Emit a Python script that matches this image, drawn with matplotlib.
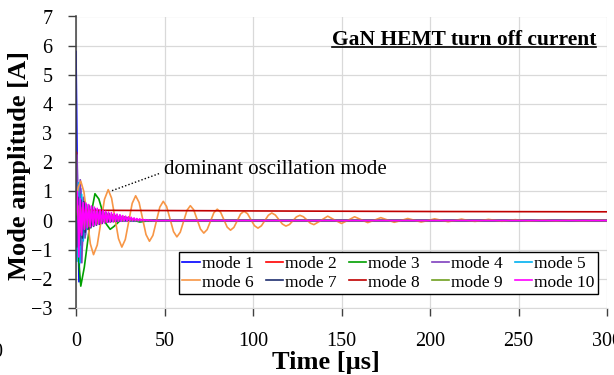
import numpy as np
import matplotlib
matplotlib.use("Agg")
import matplotlib.pyplot as plt
from matplotlib.lines import Line2D

plt.rcParams["font.family"] = ["Liberation Serif", "DejaVu Serif"]

# --- data (time in us, amplitude in A) ---
labels = ["mode %d" % i for i in range(1, 11)]
colors = ["#0000FF", "#FF0000", "#00A000", "#7F3FBF", "#00B0F0",
          "#F79646", "#1F2F6F", "#C00000", "#70A020", "#FF00FF"]

t1 = [0, 0.8, 1.7, 2.6, 3.5, 4.4, 5.3, 6.2, 7.1, 8.0, 9.0, 12, 300]
v1 = [5.8, 1.0, -2.1, 1.1, -0.9, 0.6, -0.5, 0.3, -0.25, 0.15, -0.1, 0, 0]

t2 = [0, 0.2, 0.9, 1.7, 2.5, 3.3, 4.1, 5.0, 7.0, 300]
v2 = [0.5, 2.35, -1.0, 0.9, -0.6, 0.4, -0.25, 0.1, 0, 0]

t3 = [0, 1.3, 2.7, 4.7, 6.7, 8.7, 10.7, 12.9, 15.0, 17.1, 19.3, 21.3, 23.4,
      25.5, 27.5, 31.8, 36, 44, 52, 300]
v3 = [0.6, -1.2, -2.25, -1.6, -0.66, 0.28, 0.92, 0.74, 0.31, -0.12, -0.30,
      -0.21, -0.09, 0.04, 0.12, 0.03, -0.05, 0.02, 0, 0]

t4 = [0, 0.6, 1.5, 2.4, 3.3, 4.2, 5.1, 6.0, 7.0, 8.0, 10, 300]
v4 = [0.3, 2.25, -0.7, 1.4, -1.45, 0.8, -0.6, 0.35, -0.2, 0.1, 0, 0]

t5 = [0, 0.5, 1.4, 2.3, 3.2, 4.1, 5.0, 6.0, 7.0, 9, 300]
v5 = [0, -1.4, 1.3, -1.45, 0.9, -0.7, 0.45, -0.3, 0.15, 0, 0]

# mode 6: the slow, dominant oscillation (peaks, troughs and points between)
t6 = [0, 1.3, 2.7, 4.5, 6.3, 8.1, 9.9, 12.0, 14.05, 16.1, 18.2, 20.1, 22.05,
      24.0, 25.9, 27.85, 29.8, 31.75, 33.7, 35.65, 37.6, 39.55, 41.5, 43.45,
      45.4, 47.35, 49.3, 51.2, 53.15, 55.1, 57.0, 58.9, 60.8, 62.7, 64.6,
      66.5, 68.4, 70.3, 72.2, 74.1, 76.0, 77.9, 79.8, 81.7, 83.55, 85.4,
      87.3, 89.2, 91.1, 93.0, 94.9, 96.9, 98.85, 100.8, 102.8, 104.75, 106.7,
      108.65, 110.6, 112.6, 114.6, 116.6, 118.6, 120.6, 122.55, 124.5, 126.5,
      128.5, 130.45, 132.4, 134.4, 138.3, 142.2, 146.1, 150.0, 153.7, 157.4,
      161.1, 164.8, 168.5, 172.2, 176.0, 179.8, 183.6, 187.4, 191.2, 195.0,
      198.8, 202.6, 206.4, 210.2, 214.0, 217.8, 221.6, 225.4, 229.2, 233.0,
      240.6, 248.2, 255.8, 263.4, 271.0, 278.6, 286.2, 293.8, 300]
v6 = [0.7, 1.15, 1.35, 0.98, 0.09, -0.80, -1.17, -0.84, -0.055, 0.73, 1.06,
      0.77, 0.075, -0.62, -0.91, -0.65, -0.03, 0.59, 0.85, 0.62, 0.07, -0.48,
      -0.71, -0.51, -0.025, 0.46, 0.66, 0.48, 0.05, -0.38, -0.56, -0.40,
      -0.025, 0.35, 0.51, 0.37, 0.04, -0.29, -0.43, -0.31, -0.02, 0.27, 0.39,
      0.285, 0.03, -0.225, -0.33, -0.235, -0.005, 0.225, 0.32, 0.235, 0.03,
      -0.175, -0.26, -0.18, 0.0, 0.18, 0.26, 0.19, 0.035, -0.12, -0.19,
      -0.135, -0.005, 0.125, 0.18, 0.13, 0.02, -0.09, -0.14, 0.0, 0.15, 0.02,
      -0.10, 0.01, 0.13, 0.03, -0.07, 0.01, 0.10, 0.02, -0.06, 0.0, 0.07,
      0.01, -0.05, 0.0, 0.06, 0.01, -0.04, 0.0, 0.05, 0.0, -0.03, 0.0, 0.04,
      -0.025, 0.03, -0.02, 0.02, -0.015, 0.015, -0.01, 0.01, 0.0]

# fast modes: sampled every 0.8 us (mode 7 shifted by half a step)
t7 = list(np.arange(0.4, 36, 0.8)) + [300]
v7 = [-0.9, 0.8, -0.85, 0.7, -0.6, 0.65, -0.4, 0.55, -0.3, 0.5, -0.25, 0.45,
      -0.2, 0.4, -0.16, 0.36, -0.13, 0.32, -0.1, 0.29, -0.08, 0.26, -0.06,
      0.23, -0.05, 0.2, -0.04, 0.17, -0.03, 0.14, -0.02, 0.12, -0.01, 0.1,
      0.0, 0.08, 0.0, 0.06, 0.0, 0.04, 0.0, 0.02, 0.0, 0.01, 0.0, 0.0]

t8 = [0, 0.3, 1, 2, 5, 20, 100, 200, 300]
v8 = [0.9, 0.5, 0.38, 0.36, 0.35, 0.35, 0.33, 0.31, 0.30]

t9 = list(np.arange(0, 36, 1.2)) + [300]
v9 = [0.2, 0.5, -0.4, 0.45, -0.3, 0.4, -0.2, 0.35, -0.15, 0.3, -0.1, 0.28,
      -0.08, 0.25, -0.05, 0.22, -0.04, 0.2, -0.03, 0.18, -0.02, 0.16, -0.01,
      0.13, 0.0, 0.08, 0.0, 0.04, 0.0, 0.0, 0.0]

t10 = list(np.arange(0, 44.8, 0.8)) + [300]
v10 = [0.3, 1.0, -1.25, 0.75, -0.5, 0.62, -0.3, 0.6, -0.25, 0.55, -0.22, 0.5,
       -0.18, 0.46, -0.15, 0.42, -0.12, 0.38, -0.1, 0.35, -0.08, 0.32, -0.06,
       0.29, -0.05, 0.27, -0.04, 0.24, -0.03, 0.22, -0.02, 0.2, -0.02, 0.17,
       -0.01, 0.15, -0.01, 0.13, 0.0, 0.11, 0.0, 0.09, 0.0, 0.07, 0.0, 0.06,
       0.0, 0.04, 0.0, 0.03, 0.0, 0.02, 0.0, 0.01, 0.0, 0.0, 0.0]

times = [t1, t2, t3, t4, t5, t6, t7, t8, t9, t10]
values = [v1, v2, v3, v4, v5, v6, v7, v8, v9, v10]

x_ticks = [0, 50, 100, 150, 200, 250, 300]
y_ticks = [-3, -2, -1, 0, 1, 2, 3, 4, 5, 6, 7]

# --- figure ---
fig = plt.figure(figsize=(6.14, 3.75), dpi=100)
ax = fig.add_axes([76 / 614, 67 / 375, 531 / 614, 291.5 / 375])

lines = []
for t, v, c, lab in zip(times, values, colors, labels):
    ln, = ax.plot(t, v, color=c, lw=1.2, label=lab, solid_joinstyle="round")
    lines.append(ln)

ax.set_xlim(0, 300)
ax.set_ylim(-3, 7)
ax.set_xticks(x_ticks)
ax.set_yticks(y_ticks)
ax.grid(True, color="#D9D9D9", lw=0.9)
ax.set_axisbelow(True)
for s in ["top", "right"]:
    ax.spines[s].set_visible(False)
ax.spines["bottom"].set_color("#D9D9D9")
ax.spines["left"].set_color("#404040")
ax.spines["left"].set_linewidth(1.1)
ax.tick_params(axis="both", direction="out", length=6, width=1,
               color="#404040", labelsize=14.5, pad=11)

ax.set_xlabel("Time [µs]", fontsize=19, fontweight="bold")
ax.xaxis.set_label_coords((326 - 76) / 531, -0.147)
ax.set_ylabel("Mode amplitude [A]", fontsize=19, fontweight="bold")
ax.yaxis.set_label_coords(-0.085, 0.49)

# legend: rows 1-5 / 6-10
order = [0, 5, 1, 6, 2, 7, 3, 8, 4, 9]
leg = ax.legend([lines[i] for i in order], [labels[i] for i in order],
                ncol=5, loc="lower left",
                bbox_to_anchor=(0.194, 0.048, 0.789, 0.141), mode="expand",
                borderaxespad=0,
                fontsize=12.5, handlelength=1.0, handletextpad=0.1,
                columnspacing=0.5, labelspacing=0.15, borderpad=0.2,
                fancybox=False, framealpha=1, edgecolor="black")
leg.get_frame().set_linewidth(1.0)

# annotation
ax.plot([46.9, 19.2], [1.61, 1.0], color="black", lw=1.0, ls=(0, (1, 1.5)))
ax.text(49.7, 1.75, "dominant oscillation mode", fontsize=15, va="center", ha="left")

title = ax.text(293.8, 6.03, "GaN HEMT turn off current", fontsize=15.5,
                fontweight="bold", ha="right", va="baseline")

fig.text(-0.004, 0.061, "0", fontsize=14.5, ha="center", va="center")

# underline the title
fig.canvas.draw()
bb = title.get_window_extent()
W, H = fig.bbox.width, fig.bbox.height
yb = ax.transData.transform((0, 6.03))[1] - 2
fig.add_artist(Line2D([bb.x0 / W, bb.x1 / W], [yb / H, yb / H],
                      color="black", lw=1.2, transform=fig.transFigure))

fig.savefig("out.png", dpi=100)
